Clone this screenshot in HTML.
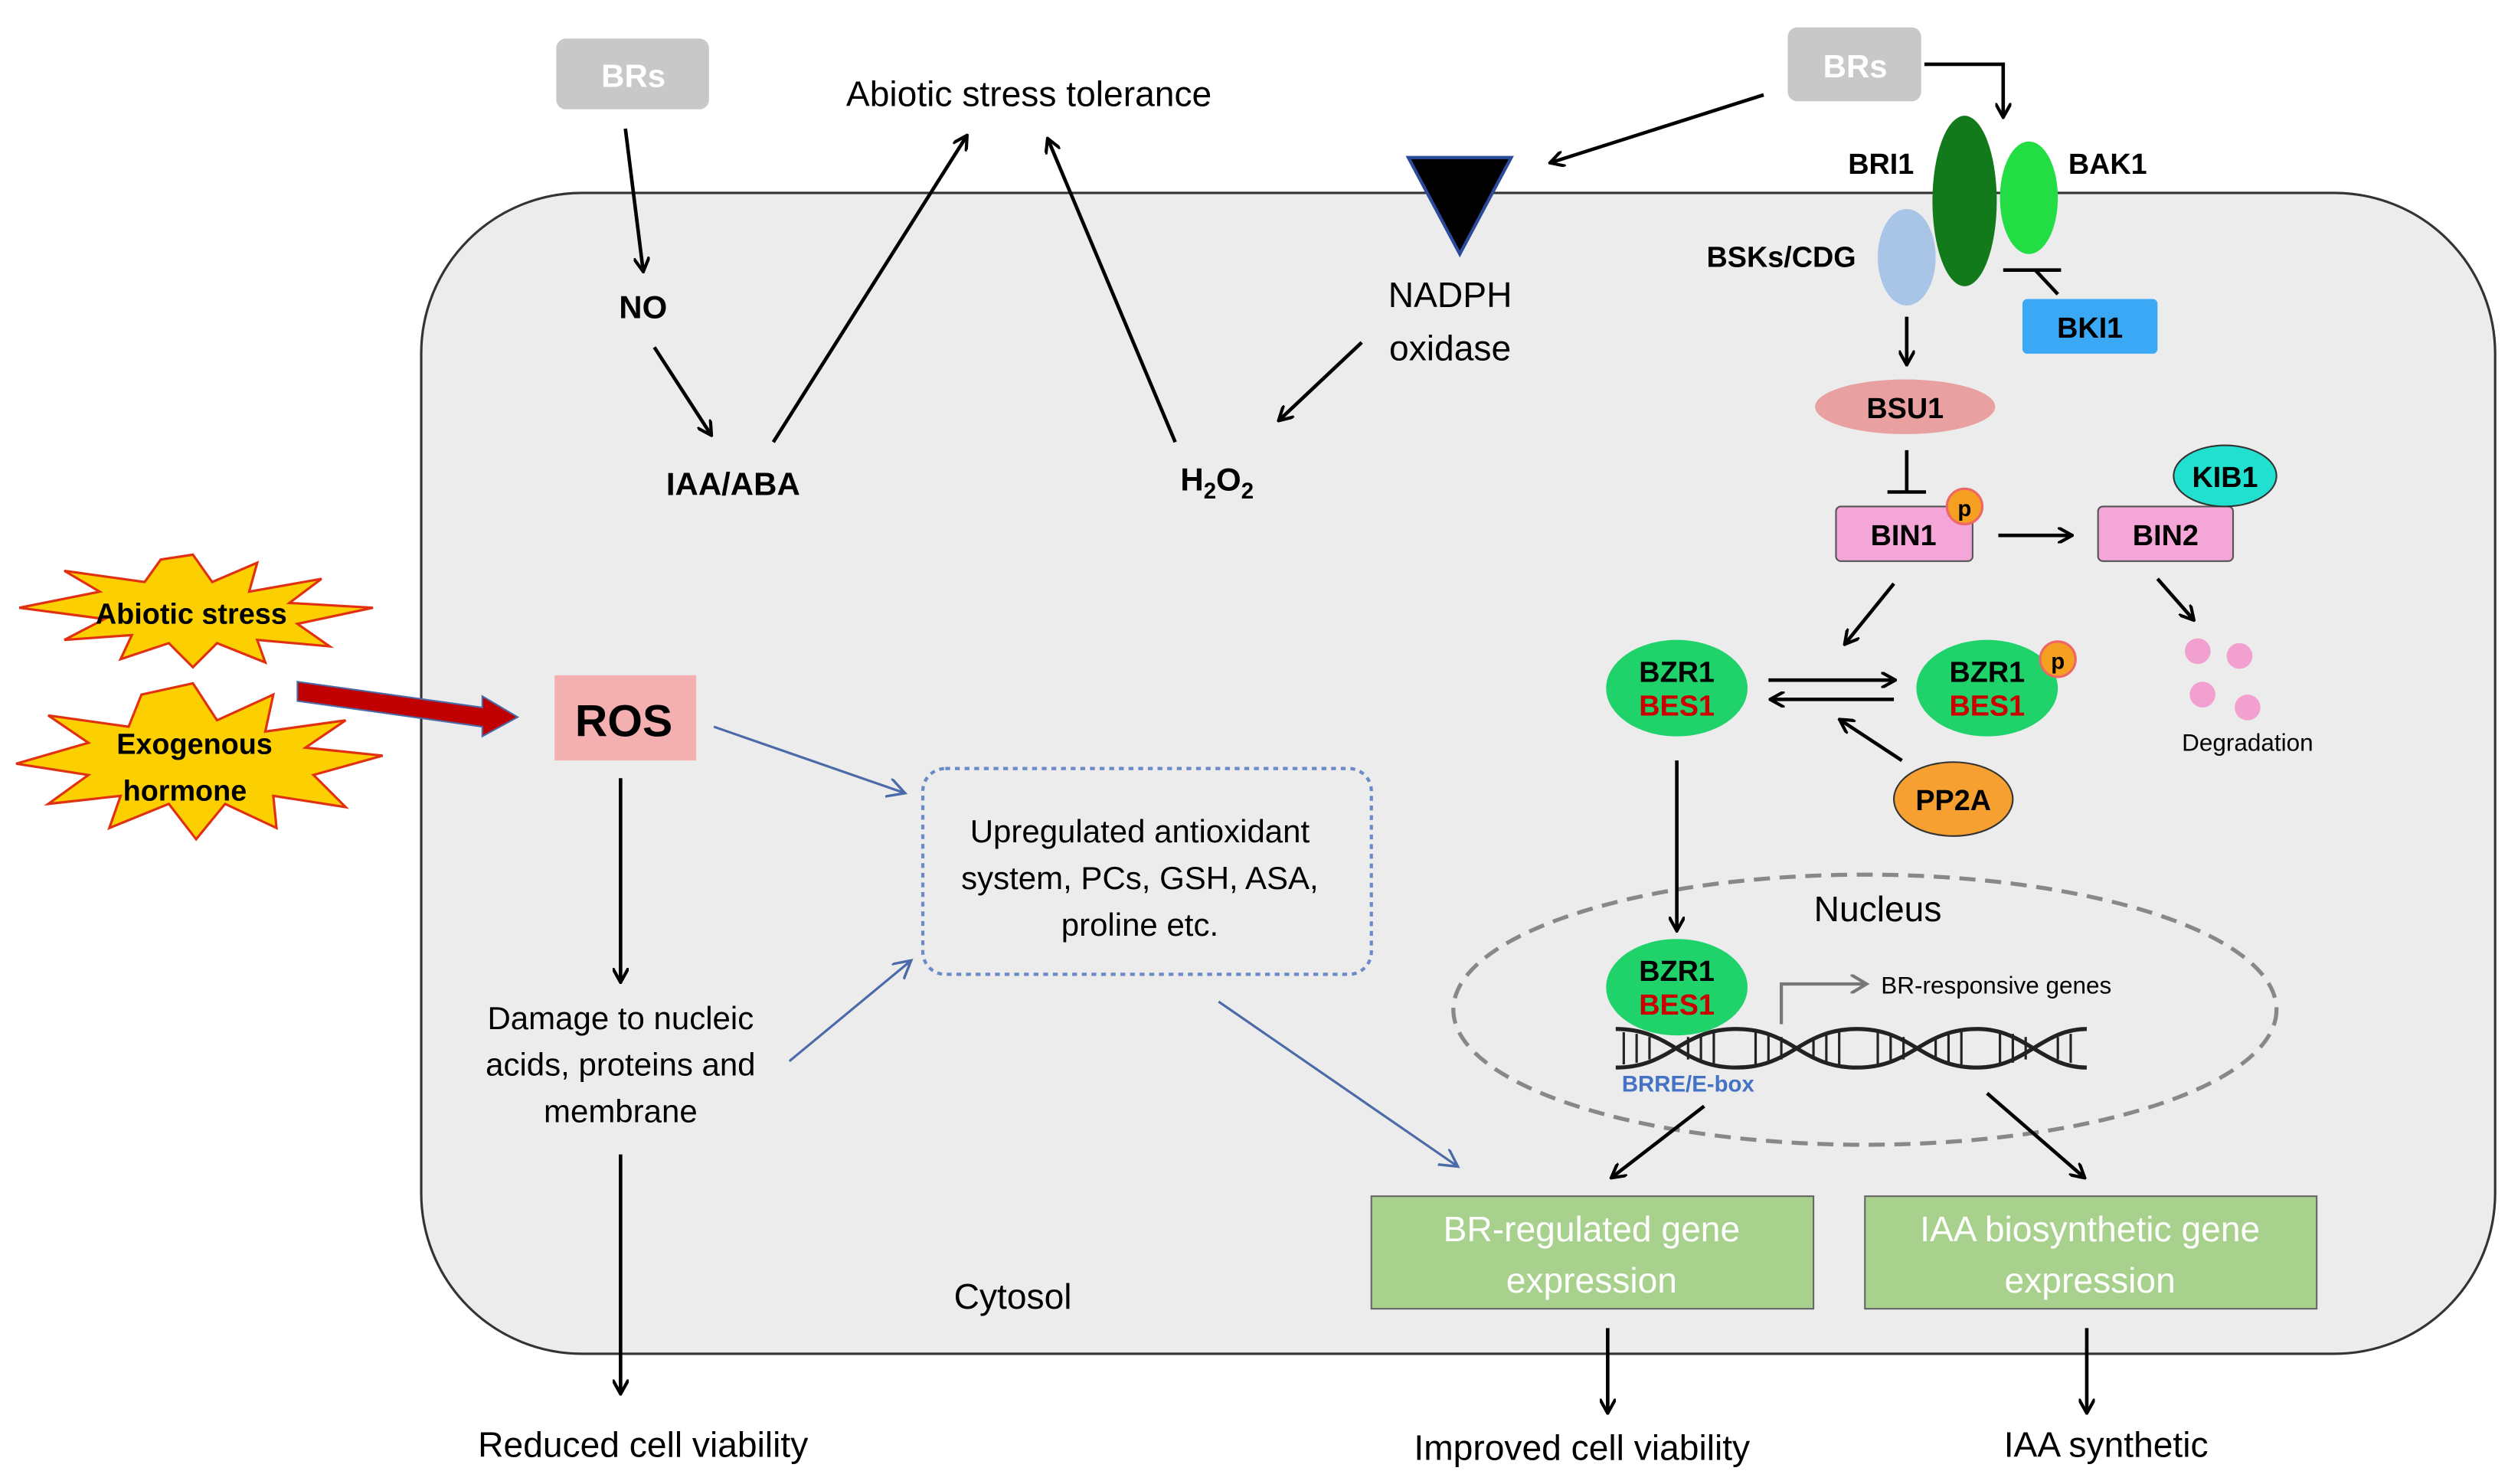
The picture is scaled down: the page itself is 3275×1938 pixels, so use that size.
<!DOCTYPE html>
<html><head><meta charset="utf-8"><style>
html,body{margin:0;padding:0;background:#fff;}
svg{display:block;}
text{font-family:"Liberation Sans",sans-serif;}
</style></head><body>
<svg width="3275" height="1938" viewBox="0 0 1560 923" preserveAspectRatio="none" xmlns="http://www.w3.org/2000/svg">
<defs>
<marker id="a" markerWidth="10" markerHeight="10" refX="8" refY="5" orient="auto" markerUnits="userSpaceOnUse"><path d="M0,0 L9,5 L0,10" fill="none" stroke="#000" stroke-width="2"/></marker>
<marker id="b" markerWidth="14" markerHeight="14" refX="10" refY="6" orient="auto" markerUnits="userSpaceOnUse"><path d="M0,0 L11,6 L0,12" fill="none" stroke="#4a6aa8" stroke-width="1.6"/></marker>
<marker id="g" markerWidth="12" markerHeight="12" refX="9" refY="6" orient="auto" markerUnits="userSpaceOnUse"><path d="M0,0 L10,6 L0,12" fill="none" stroke="#777" stroke-width="2"/></marker>
</defs>
<rect x="262" y="120" width="1290" height="722" rx="100" fill="#ececec" stroke="#333" stroke-width="1.5"/>
<g font-weight="bold">
<rect x="346" y="24" width="95" height="44" rx="6" fill="#c8c8c8"/><text x="394" y="54" font-size="20" fill="#fff" text-anchor="middle">BRs</text>
<rect x="1112" y="17" width="83" height="46" rx="6" fill="#c8c8c8"/><text x="1154" y="48" font-size="20" fill="#fff" text-anchor="middle">BRs</text>
</g>
<g font-size="22" text-anchor="middle">
<text x="640" y="66">Abiotic stress tolerance</text>
<text x="902" y="191">NADPH</text><text x="902" y="224">oxidase</text>
<text x="630" y="814">Cytosol</text>
<text x="400" y="906">Reduced cell viability</text>
<text x="984" y="908">Improved cell viability</text>
<text x="1310" y="906">IAA synthetic</text>
<text x="386" y="640" font-size="20">Damage to nucleic</text>
<text x="386" y="669" font-size="20">acids, proteins and</text>
<text x="386" y="698" font-size="20">membrane</text>
<text x="1168" y="573">Nucleus</text>
</g>
<g font-size="20" font-weight="bold" text-anchor="middle">
<text x="400" y="198">NO</text>
<text x="456" y="308">IAA/ABA</text>
<text x="757" y="305">H<tspan font-size="14" dy="5">2</tspan><tspan dy="-5">O</tspan><tspan font-size="14" dy="5">2</tspan></text>
<text x="1170" y="108" font-size="18">BRI1</text>
<text x="1311" y="108" font-size="18">BAK1</text>
<text x="1108" y="166" font-size="18">BSKs/CDG</text>
</g>
<polygon points="876,98 940,98 908,158" fill="#000" stroke="#2a4a9a" stroke-width="2"/>
<ellipse cx="1186" cy="160" rx="18" ry="30" fill="#a8c4e6"/>
<ellipse cx="1222" cy="125" rx="20" ry="53" fill="#127a1a"/>
<ellipse cx="1262" cy="123" rx="18" ry="35" fill="#22dd44"/>
<rect x="1258" y="186" width="84" height="34" rx="3" fill="#3aa8f5"/><text x="1300" y="210" font-size="18" font-weight="bold" text-anchor="middle">BKI1</text>
<ellipse cx="1185" cy="253" rx="56" ry="17" fill="#e8a0a0"/><text x="1185" y="260" font-size="18" font-weight="bold" text-anchor="middle">BSU1</text>
<rect x="1142" y="315" width="85" height="34" rx="3" fill="#f4a6d8" stroke="#555"/><text x="1184" y="339" font-size="18" font-weight="bold" text-anchor="middle">BIN1</text>
<circle cx="1222" cy="315" r="11" fill="#f5a020" stroke="#e66" stroke-width="1.5"/><text x="1222" y="321" font-size="14" font-weight="bold" text-anchor="middle">p</text>
<rect x="1305" y="315" width="84" height="34" rx="3" fill="#f4a6d8" stroke="#555"/><text x="1347" y="339" font-size="18" font-weight="bold" text-anchor="middle">BIN2</text>
<ellipse cx="1384" cy="296" rx="32" ry="19" fill="#22e0d0" stroke="#333"/><text x="1384" y="303" font-size="18" font-weight="bold" text-anchor="middle">KIB1</text>
<g font-size="18" font-weight="bold" text-anchor="middle">
<ellipse cx="1043" cy="428" rx="44" ry="30" fill="#1fd36a"/><text x="1043" y="424">BZR1</text><text x="1043" y="445" fill="#c00">BES1</text>
<ellipse cx="1236" cy="428" rx="44" ry="30" fill="#1fd36a"/><text x="1236" y="424">BZR1</text><text x="1236" y="445" fill="#c00">BES1</text>
<ellipse cx="1043" cy="614" rx="44" ry="30" fill="#1fd36a"/><text x="1043" y="610">BZR1</text><text x="1043" y="631" fill="#c00">BES1</text>
</g>
<circle cx="1280" cy="410" r="11" fill="#f5a020" stroke="#e66" stroke-width="1.5"/><text x="1280" y="416" font-size="14" font-weight="bold" text-anchor="middle">p</text>
<ellipse cx="1215" cy="497" rx="37" ry="23" fill="#f5a030" stroke="#333"/><text x="1215" y="504" font-size="18" font-weight="bold" text-anchor="middle">PP2A</text>
<g fill="#f2a0d0"><circle cx="1367" cy="405" r="8"/><circle cx="1393" cy="408" r="8"/><circle cx="1370" cy="432" r="8"/><circle cx="1398" cy="440" r="8"/></g>
<text x="1398" y="467" font-size="15" text-anchor="middle">Degradation</text>
<ellipse cx="1160" cy="628" rx="256" ry="84" fill="none" stroke="#888" stroke-width="2.5" stroke-dasharray="10,6"/>
<g stroke="#222" stroke-width="2.5" fill="none">
<path d="M1005,640 C1040,640 1045,664 1080,664 C1115,664 1120,640 1155,640 C1190,640 1195,664 1230,664 C1260,664 1270,640 1298,640"/>
<path d="M1005,664 C1040,664 1045,640 1080,640 C1115,640 1120,664 1155,664 C1190,664 1195,640 1230,640 C1260,640 1270,664 1298,664"/>
</g>
<g stroke="#222" stroke-width="1.5"><path d="M1010,642V662M1018,643V661M1026,645V659M1050,645V659M1058,643V661M1066,642V662M1092,642V662M1100,643V661M1108,645V659M1128,645V659M1136,643V661M1144,642V662M1168,642V662M1176,643V661M1184,645V659M1204,645V659M1212,643V661M1220,642V662M1244,642V662M1252,643V661M1260,645V659M1280,645V659M1288,643V661"/></g>
<text x="1050" y="679" font-size="14" font-weight="bold" fill="#4472c4" text-anchor="middle">BRRE/E-box</text>
<path d="M1108,637 V612 H1160" fill="none" stroke="#777" stroke-width="2" marker-end="url(#g)"/>
<text x="1170" y="618" font-size="15">BR-responsive genes</text>
<rect x="853" y="744" width="275" height="70" fill="#a9d18e" stroke="#666"/>
<text x="990" y="772" font-size="22" fill="#fff" text-anchor="middle">BR-regulated gene</text><text x="990" y="804" font-size="22" fill="#fff" text-anchor="middle">expression</text>
<rect x="1160" y="744" width="281" height="70" fill="#a9d18e" stroke="#666"/>
<text x="1300" y="772" font-size="22" fill="#fff" text-anchor="middle">IAA biosynthetic gene</text><text x="1300" y="804" font-size="22" fill="#fff" text-anchor="middle">expression</text>
<rect x="345" y="420" width="88" height="53" fill="#f4b0b0"/><text x="388" y="458" font-size="28" font-weight="bold" text-anchor="middle">ROS</text>
<rect x="574" y="478" width="279" height="128" rx="14" fill="none" stroke="#6a8ac8" stroke-width="2" stroke-dasharray="3,3"/>
<g font-size="20" text-anchor="middle"><text x="709" y="524">Upregulated antioxidant</text><text x="709" y="553">system, PCs, GSH, ASA,</text><text x="709" y="582">proline etc.</text></g>
<polygon points="120,345 132,362 160,350 155,368 200,360 180,375 232,378 185,388 205,402 160,398 165,412 135,400 120,415 105,400 75,410 82,395 40,398 65,385 12,378 62,368 40,355 90,362 100,348" fill="#fcd000" stroke="#e03010" stroke-width="1.5"/>
<polygon points="120,425 135,448 170,432 165,455 215,448 190,465 238,470 195,482 215,502 170,495 172,515 140,500 122,522 105,500 68,515 75,495 30,500 55,482 10,475 55,462 30,445 80,452 88,432" fill="#fcd000" stroke="#e03010" stroke-width="1.5"/>
<g font-size="18" font-weight="bold" text-anchor="middle"><text x="119" y="388">Abiotic stress</text><text x="121" y="469">Exogenous</text><text x="115" y="498">hormone</text></g>
<polygon points="185,424 300,440 300,433 322,446 300,458 300,452 185,436" fill="#c00000" stroke="#4a6aa8" stroke-width="1"/>
<g stroke="#000" stroke-width="2.2" fill="none" marker-end="url(#a)">
<line x1="389" y1="80" x2="400" y2="168"/>
<line x1="407" y1="216" x2="442" y2="270"/>
<line x1="481" y1="275" x2="601" y2="85"/>
<line x1="731" y1="275" x2="652" y2="87"/>
<line x1="847" y1="213" x2="796" y2="261"/>
<line x1="1097" y1="59" x2="965" y2="101"/>
<path d="M1197,40 H1246 V72"/>
<line x1="1186" y1="197" x2="1186" y2="226"/>
<line x1="1243" y1="333" x2="1288" y2="333"/>
<line x1="1178" y1="363" x2="1148" y2="400"/>
<line x1="1342" y1="360" x2="1364" y2="385"/>
<line x1="1100" y1="423" x2="1178" y2="423"/>
<line x1="1178" y1="435" x2="1102" y2="435"/>
<line x1="1183" y1="473" x2="1145" y2="448"/>
<line x1="1043" y1="473" x2="1043" y2="578"/>
<line x1="1060" y1="688" x2="1003" y2="732"/>
<line x1="1236" y1="680" x2="1296" y2="732"/>
<line x1="386" y1="484" x2="386" y2="610"/>
<line x1="386" y1="718" x2="386" y2="866"/>
<line x1="1000" y1="826" x2="1000" y2="878"/>
<line x1="1298" y1="826" x2="1298" y2="878"/>
</g>
<g stroke="#000" stroke-width="2.2"><line x1="1186" y1="280" x2="1186" y2="306"/><line x1="1174" y1="306" x2="1198" y2="306"/>
<line x1="1280" y1="183" x2="1266" y2="168"/><line x1="1246" y1="168" x2="1282" y2="168"/></g>
<g stroke="#4a6aa8" stroke-width="1.5" fill="none" marker-end="url(#b)">
<line x1="444" y1="452" x2="562" y2="493"/>
<line x1="491" y1="660" x2="566" y2="598"/>
<line x1="758" y1="623" x2="906" y2="725"/>
</g>
</svg>
</body></html>
